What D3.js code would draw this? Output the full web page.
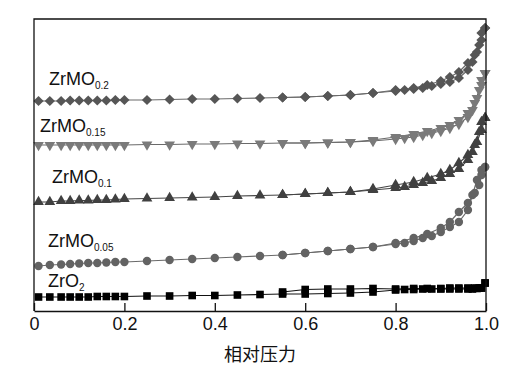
<!DOCTYPE html>
<html>
<head>
<meta charset="utf-8">
<script src="https://cdn.jsdelivr.net/npm/d3@7"></script>
<style>
  body { margin: 0; background: #fff; }
  text { font-family: "Liberation Sans", Arial, sans-serif; fill: #111; }
</style>
</head>
<body>
<script>
const width = 531;
const height = 370;
const margin = { left: 34, top: 19, right: 45, bottom: 59 };

// relative pressure grid, adsorption (up) and desorption (down)
const adsP = [0.01, 0.035, 0.06, 0.08, 0.10, 0.12, 0.14, 0.16, 0.18, 0.20, 0.25, 0.30, 0.35, 0.40, 0.45, 0.50, 0.55,
  0.60, 0.65, 0.70, 0.75, 0.80, 0.82, 0.84, 0.86, 0.88, 0.90, 0.92, 0.94, 0.96, 0.97, 0.98, 0.99, 0.998];
const desP = [0.998, 0.99, 0.985, 0.975, 0.96, 0.94, 0.92, 0.90, 0.87, 0.84, 0.80, 0.75, 0.70, 0.65, 0.60, 0.55];

// adsorbed volume (arbitrary units, curves offset)
const zr02Ads = [209, 209, 209, 209.5, 209.5, 209.5, 209.5, 209.5, 210, 210, 210, 210.5, 211, 211, 211.5, 212, 212.5,
  213, 214, 215, 217, 219, 220, 221, 222, 224, 226, 228, 232, 240, 248, 258, 270, 282];
const zr02Des = [282, 277, 265, 255, 247, 238, 233, 229, 225, 222, 220, 217, 215, 214, 213, 212.5];

const zr015Ads = [165, 165, 165, 165, 165, 165, 165, 165, 165, 165, 165.5, 165.5, 166, 166, 166.5, 166.5, 167,
  167, 167.5, 168, 169, 171, 172, 173, 175, 177, 179, 182, 186, 193, 200, 212, 225, 237];
const zr015Des = [237, 230, 220, 207, 197, 190, 185, 182, 179, 176, 173, 170, 168, 167.5, 167, 167];

const zr01Ads = [108, 108, 109, 109, 109.5, 109.5, 110, 110, 110.5, 111, 111.5, 112, 112.5, 113, 114, 114.5, 115,
  116, 117, 118, 120, 122, 123, 125, 127, 129, 132, 136, 141, 150, 158, 168, 180, 192];
const zr01Des = [192, 188, 178, 165, 155, 147, 140, 136, 132, 128, 125, 121, 118, 117, 116, 115];

const zr005Ads = [44, 45, 45.5, 46, 46.5, 47, 47, 47.5, 48, 48, 49, 50, 51, 52, 53, 54, 55,
  57, 59, 61, 63, 66, 67, 69, 72, 74, 78, 83, 88, 100, 115, 130, 140, 143];
const zr005Des = [143, 135, 125, 117, 107, 98, 88, 82, 76, 72, 67, 63, 61, 59, 57, 55];

const zrO2Ads = [13, 13, 13, 13, 13, 13, 13.5, 13.5, 13.5, 13.5, 14, 14, 14.5, 14.5, 15, 15.5, 16,
  16, 16.5, 17, 18, 20, 20.5, 20.5, 21, 21, 21, 21, 21, 21, 21, 21.5, 22, 27];
const zrO2Des = [27, 22, 22, 22, 22, 22, 22, 21.5, 21.5, 21.5, 21, 21.5, 21, 21, 20.5, 18];

const xTicks = [0, 0.2, 0.4, 0.6, 0.8, 1.0];

const series = [
  { name: "ZrMO", sub: "0.2", ads: zr02Ads, des: zr02Des, shape: "diamond", color: "#565656", line: "#6a6a6a", lx: 49, ly: 85 },
  { name: "ZrMO", sub: "0.15", ads: zr015Ads, des: zr015Des, shape: "down", color: "#7a7a7a", line: "#6a6a6a", lx: 40, ly: 132 },
  { name: "ZrMO", sub: "0.1", ads: zr01Ads, des: zr01Des, shape: "up", color: "#404040", line: "#444", lx: 52, ly: 183 },
  { name: "ZrMO", sub: "0.05", ads: zr005Ads, des: zr005Des, shape: "circle", color: "#636363", line: "#6a6a6a", lx: 48, ly: 247 },
  { name: "ZrO", sub: "2", ads: zrO2Ads, des: zrO2Des, shape: "square", color: "#000", line: "#111", lx: 48, ly: 287 }
];

const x = d3.scaleLinear().domain([0, 1]).range([margin.left, width - margin.right]);
const y = d3.scaleLinear().domain([0, 291]).range([310, 19]);

const svg = d3.select("body").append("svg")
    .attr("width", width)
    .attr("height", height);

const line = d3.line().x(d => x(d[0])).y(d => y(d[1]));

const symbols = {
  diamond: d3.symbol().type(d3.symbolSquare).size(52),
  down: d3.symbol().type(d3.symbolTriangle).size(50),
  up: d3.symbol().type(d3.symbolTriangle).size(50),
  circle: d3.symbol().type(d3.symbolCircle).size(56),
  square: d3.symbol().type(d3.symbolSquare).size(58)
};
const rotation = { diamond: 45, down: 180, up: 0, circle: 0, square: 0 };

series.forEach(s => {
  const ads = adsP.map((p, i) => [p, s.ads[i]]);
  const des = desP.map((p, i) => [p, s.des[i]]);
  const g = svg.append("g");

  [ads, des].forEach(pts => {
    g.append("path")
      .attr("d", line(pts))
      .attr("fill", "none")
      .attr("stroke", s.line)
      .attr("stroke-width", 1.2);
  });

  g.selectAll("path.pt")
    .data(ads.concat(des))
    .join("path")
    .attr("class", "pt")
    .attr("d", symbols[s.shape])
    .attr("transform", d => `translate(${x(d[0])},${y(d[1])}) rotate(${rotation[s.shape]})`)
    .attr("fill", s.color);

  const t = svg.append("text")
    .attr("x", s.lx)
    .attr("y", s.ly)
    .style("font-size", "18px");
  t.append("tspan").text(s.name);
  t.append("tspan")
    .attr("dy", 4)
    .style("font-size", "10px")
    .text(s.sub);
});

// frame
svg.append("path")
  .attr("d", `M${x(0)},311V19H${x(1)}V311`)
  .attr("fill", "none")
  .attr("stroke", "#111")
  .attr("stroke-width", 1.3);

// bottom axis, ticks pointing in
const xAxis = svg.append("g")
  .attr("transform", "translate(0,311)")
  .call(d3.axisBottom(x).tickValues(xTicks).tickSizeInner(-8).tickSizeOuter(0)
    .tickFormat(d => d === 0 ? "0" : d3.format(".1f")(d)));
xAxis.select(".domain").attr("stroke", "#111").attr("stroke-width", 1.3);
xAxis.selectAll(".tick line").attr("stroke", "#111").attr("stroke-width", 1.3);
xAxis.selectAll(".tick text")
  .attr("y", 19)
  .attr("dy", 0)
  .style("font-size", "18px")
  .style("font-family", "Liberation Sans, Arial, sans-serif")
  .attr("fill", "#111");

svg.append("text")
  .attr("x", 260)
  .attr("y", 361)
  .attr("text-anchor", "middle")
  .style("font-size", "18px")
  .style("font-family", "Noto Sans CJK SC, sans-serif")
  .text("相对压力");
</script>
</body>
</html>
